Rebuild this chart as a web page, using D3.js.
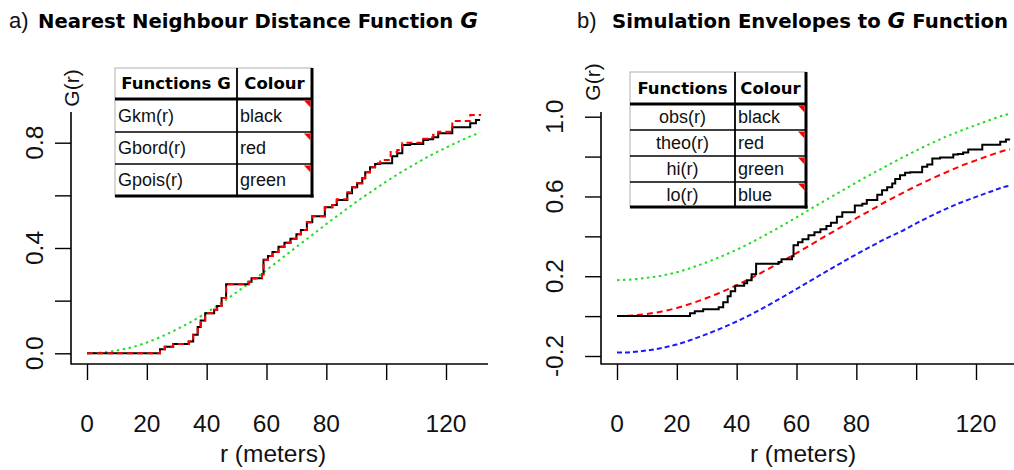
<!DOCTYPE html>
<html><head><meta charset="utf-8">
<script src="https://cdn.jsdelivr.net/npm/d3@7"></script>
<style>body{margin:0;background:#fff}svg{display:block}</style>
</head><body><svg id="c" width="1014" height="470"></svg>
<script>
// ---------- data ----------
const xTicks = [0, 20, 40, 60, 80, 100, 120];
const xTickLabels = ["0", "20", "40", "60", "80", "", "120"];
const yTicksA = [0, 0.2, 0.4, 0.6, 0.8];
const yTickLabelsA = ["0.0", "", "0.4", "", "0.8"];
const yTicksB = [-0.2, 0, 0.2, 0.4, 0.6, 0.8, 1.0];
const yTickLabelsB = ["-0.2", "", "0.2", "", "0.6", "", "1.0"];

// smooth curves (theoretical Poisson G and simulation envelopes)
const rSmooth = [0, 5, 10, 15, 20, 25, 30, 35, 40, 45, 50, 55, 60, 65, 70, 75, 80, 85, 90, 95, 100, 105, 110, 115, 120, 125, 130, 131.4];
const gPois = [0, 0.003, 0.011, 0.023, 0.041, 0.064, 0.091, 0.121, 0.155, 0.192, 0.232, 0.273, 0.316, 0.360, 0.404, 0.447, 0.491, 0.533, 0.575, 0.614, 0.652, 0.688, 0.721, 0.753, 0.781, 0.808, 0.832, 0.836];
const hiEnv = [0.180, 0.184, 0.192, 0.203, 0.220, 0.243, 0.270, 0.300, 0.333, 0.370, 0.410, 0.452, 0.495, 0.540, 0.584, 0.627, 0.670, 0.712, 0.752, 0.792, 0.830, 0.866, 0.900, 0.930, 0.958, 0.985, 1.010, 1.015];
const loEnv = [-0.183, -0.180, -0.172, -0.160, -0.142, -0.118, -0.090, -0.060, -0.027, 0.010, 0.050, 0.092, 0.136, 0.180, 0.224, 0.267, 0.310, 0.350, 0.390, 0.425, 0.465, 0.503, 0.538, 0.570, 0.598, 0.625, 0.650, 0.654];

// empirical step functions
const rKm = [0, 24.4, 26, 28.8, 34, 35.5, 37, 38, 39.5, 42.5, 43.5, 45, 46.5, 54, 55, 58.5, 59, 60.5, 62, 64, 66, 68, 70, 71.5, 73.5, 75.3, 79.5, 82, 83.5, 87, 88.6, 90.3, 92, 93, 94.6, 96.3, 98, 102, 103.7, 105.4, 108, 112.4, 114, 115.7, 117.4, 122.1, 128.1, 130, 131.4];
const gKm = [0, 0.015, 0.025, 0.035, 0.045, 0.07, 0.10, 0.125, 0.152, 0.165, 0.18, 0.21, 0.262, 0.272, 0.285, 0.30, 0.355, 0.37, 0.385, 0.405, 0.42, 0.435, 0.452, 0.468, 0.498, 0.521, 0.555, 0.563, 0.582, 0.608, 0.631, 0.646, 0.665, 0.688, 0.707, 0.719, 0.722, 0.749, 0.760, 0.791, 0.795, 0.81, 0.813, 0.821, 0.836, 0.859, 0.874, 0.886, 0.886];
const rBord = [0, 24.4, 26, 28.8, 34, 35.5, 37, 38, 39.5, 42.5, 43.5, 45, 46.5, 54, 55, 58.5, 59, 60.5, 62, 64, 66, 68, 70, 71.5, 73.5, 75.3, 79.5, 82, 83.5, 87, 88.6, 90.3, 92, 93, 94.6, 96.3, 98, 101.5, 103.7, 105.4, 112.4, 114, 115.7, 117.4, 122.1, 128.1, 131.4];
const gBord = [0, 0.015, 0.025, 0.035, 0.045, 0.07, 0.10, 0.125, 0.152, 0.165, 0.18, 0.21, 0.262, 0.272, 0.285, 0.30, 0.355, 0.37, 0.385, 0.405, 0.42, 0.435, 0.452, 0.468, 0.498, 0.521, 0.555, 0.563, 0.585, 0.612, 0.631, 0.646, 0.665, 0.688, 0.707, 0.722, 0.734, 0.765, 0.772, 0.80, 0.815, 0.82, 0.83, 0.842, 0.882, 0.905, 0.909];

const legendAHeader = ["Functions G", "Colour"];
const legendAFuncs = ["Gkm(r)", "Gbord(r)", "Gpois(r)"];
const legendAColours = ["black", "red", "green"];
const legendBHeader = ["Functions", "Colour"];
const legendBFuncs = ["obs(r)", "theo(r)", "hi(r)", "lo(r)"];
const legendBColours = ["black", "red", "green", "blue"];

// ---------- drawing ----------
const svg = d3.select("#c");
const FONT = "'Liberation Sans', Arial, sans-serif";
const BOLD = "'DejaVu Sans', sans-serif";
const COL = {black: "#000", red: "#ff0000", green: "#22dd22", blue: "#1a1aff"};

function panel(o) {
  const g = svg.append("g");
  const x = d3.scaleLinear().domain([0, 120]).range(o.xr);
  const y = d3.scaleLinear().domain(o.yd).range(o.yr);
  // axis lines (L shape)
  g.append("line").attr("x1", o.axX).attr("x2", o.axX).attr("y1", 112).attr("y2", 364.5)
    .attr("stroke", "#000").attr("stroke-width", 1.6);
  g.append("line").attr("x1", o.axX).attr("x2", o.xEnd).attr("y1", 364).attr("y2", 364)
    .attr("stroke", "#000").attr("stroke-width", 1.6);
  // x axis ticks
  const xa = g.append("g").attr("transform", "translate(0,364)")
    .call(d3.axisBottom(x).tickValues(xTicks).tickSize(16).tickSizeOuter(0).tickFormat(""));
  xa.select(".domain").remove();
  xa.selectAll("line").attr("stroke", "#000").attr("stroke-width", 1.4);
  g.selectAll(".xl").data(xTicks).enter().append("text")
    .attr("x", d => x(d)).attr("y", 432).attr("text-anchor", "middle")
    .attr("font-family", FONT).attr("font-size", 24.5).attr("fill", "#111")
    .text((d, i) => xTickLabels[i]);
  // y axis ticks
  const ya = g.append("g").attr("transform", `translate(${o.axX},0)`)
    .call(d3.axisLeft(y).tickValues(o.yt).tickSize(16).tickSizeOuter(0).tickFormat(""));
  ya.select(".domain").remove();
  ya.selectAll("line").attr("stroke", "#000").attr("stroke-width", 1.4);
  g.selectAll(".yl").data(o.yt).enter().append("text")
    .attr("transform", d => `translate(${o.ylX},${y(d)}) rotate(-90)`)
    .attr("text-anchor", "middle")
    .attr("font-family", FONT).attr("font-size", 24.5).attr("fill", "#111")
    .text((d, i) => o.ytl[i]);
  // axis titles
  g.append("text").attr("x", o.xTitleX).attr("y", 462).attr("text-anchor", "middle")
    .attr("font-family", FONT).attr("font-size", 24.5).attr("fill", "#111").text("r (meters)");
  g.append("text").attr("transform", `translate(${o.gX},${o.gY}) rotate(-90)`)
    .attr("text-anchor", "middle").attr("font-family", FONT).attr("font-size", 21)
    .attr("fill", "#111").text("G(r)");
  return {g, x, y};
}

function drawSmooth(p, vals, colour, dash) {
  const line = d3.line().x((d, i) => p.x(rSmooth[i])).y(d => p.y(d)).curve(d3.curveMonotoneX);
  p.g.append("path").datum(vals).attr("d", line).attr("fill", "none")
    .attr("stroke", colour).attr("stroke-width", 2).attr("stroke-dasharray", dash);
}
function drawStep(p, rs, vals, colour, dash) {
  const line = d3.line().x((d, i) => p.x(rs[i])).y(d => p.y(d)).curve(d3.curveStepAfter);
  p.g.append("path").datum(vals).attr("d", line).attr("fill", "none")
    .attr("stroke", colour).attr("stroke-width", 2).attr("stroke-dasharray", dash);
}

function table(o) {
  const g = svg.append("g");
  const x0 = o.x0, x1 = o.x1, xd = o.xd, ys = o.ys;
  const yTop = ys[0], yBot = ys[ys.length - 1];
  g.append("rect").attr("x", x0).attr("y", yTop).attr("width", x1 - x0).attr("height", yBot - yTop)
    .attr("fill", "#fff").attr("stroke", "#b0b0b0").attr("stroke-width", 1);
  // row separators
  ys.slice(1, -1).forEach((yy, i) => {
    g.append("line").attr("x1", x0).attr("x2", x1).attr("y1", yy).attr("y2", yy)
      .attr("stroke", "#000").attr("stroke-width", i === 0 ? 3 : 1.6);
  });
  // column divider
  g.append("line").attr("x1", xd).attr("x2", xd).attr("y1", yTop).attr("y2", yBot)
    .attr("stroke", "#000").attr("stroke-width", 1.8);
  // shadow right & bottom
  g.append("line").attr("x1", x1).attr("x2", x1).attr("y1", yTop).attr("y2", yBot + 1.5)
    .attr("stroke", "#000").attr("stroke-width", 3);
  g.append("line").attr("x1", x0).attr("x2", x1 + 1.5).attr("y1", yBot).attr("y2", yBot)
    .attr("stroke", "#000").attr("stroke-width", 3);
  // header
  const hy = (ys[0] + ys[1]) / 2;
  [[o.header[0], (x0 + xd) / 2], [o.header[1], (xd + x1) / 2]].forEach(([t, cx]) => {
    g.append("text").attr("x", cx).attr("y", hy).attr("dy", "0.36em").attr("text-anchor", "middle")
      .attr("font-family", BOLD).attr("font-weight", "bold").attr("font-size", o.hfs).text(t);
  });
  o.funcs.forEach((f, i) => {
    const cy = (ys[i + 1] + ys[i + 2]) / 2;
    g.append("text").attr("x", o.centerFunc ? (x0 + xd) / 2 : x0 + 3).attr("y", cy).attr("dy", "0.36em")
      .attr("text-anchor", o.centerFunc ? "middle" : "start")
      .attr("font-family", FONT).attr("font-size", o.bfs).attr("fill", "#111").text(f);
    g.append("text").attr("x", xd + 3).attr("y", cy).attr("dy", "0.36em")
      .attr("font-family", FONT).attr("font-size", o.bfs).attr("fill", "#111").text(o.colours[i]);
    const ty = ys[i + 1] + 1.5;
    g.append("path").attr("d", `M${x1 - 8},${ty} L${x1 - 1.5},${ty} L${x1 - 1.5},${ty + 7} Z`).attr("fill", "#ff0000");
  });
}

// Panel a
const pa = panel({xr: [87, 446], yd: [0, 0.8], yr: [353.3, 142.7], axX: 71, xEnd: 488,
  yt: yTicksA, ytl: yTickLabelsA, ylX: 43, xTitleX: 273, gX: 79, gY: 88});
drawSmooth(pa, gPois, COL.green, "2.5,3.5");
drawStep(pa, rKm, gKm, COL.black, null);
drawStep(pa, rBord, gBord, COL.red, "6,4");

// Panel b
const pb = panel({xr: [617, 976], yd: [-0.2, 1.0], yr: [356, 116.7], axX: 601, xEnd: 1014,
  yt: yTicksB, ytl: yTickLabelsB, ylX: 563, xTitleX: 803, gX: 600, gY: 82});
drawSmooth(pb, hiEnv, COL.green, "2.5,3.5");
drawSmooth(pb, loEnv, COL.blue, "5,3");
drawSmooth(pb, gPois, COL.red, "6,4");
drawStep(pb, rKm, gKm, COL.black, null);

table({x0: 115, x1: 312, xd: 237, ys: [68, 99, 132, 164, 196], header: legendAHeader,
  funcs: legendAFuncs, colours: legendAColours, hfs: 16.5, bfs: 18, centerFunc: false});
table({x0: 630, x1: 806, xd: 735, ys: [72, 104, 130, 156, 182, 207], header: legendBHeader,
  funcs: legendBFuncs, colours: legendBColours, hfs: 16.5, bfs: 18, centerFunc: true});

// Titles
svg.append("text").attr("x", 9).attr("y", 28).attr("font-family", FONT).attr("font-size", 22)
  .attr("fill", "#111").text("a)");
const ta = svg.append("text").attr("x", 38).attr("y", 28).attr("font-family", BOLD)
  .attr("font-weight", "bold").attr("font-size", 19).attr("textLength", 440)
  .attr("lengthAdjust", "spacingAndGlyphs");
ta.append("tspan").text("Nearest Neighbour Distance Function ");
ta.append("tspan").attr("font-style", "italic").attr("font-size", 21).text("G");

svg.append("text").attr("x", 577).attr("y", 28).attr("font-family", FONT).attr("font-size", 22)
  .attr("fill", "#111").text("b)");
const tb = svg.append("text").attr("x", 612).attr("y", 28).attr("font-family", BOLD)
  .attr("font-weight", "bold").attr("font-size", 19).attr("textLength", 396)
  .attr("lengthAdjust", "spacingAndGlyphs");
tb.append("tspan").text("Simulation Envelopes to ");
tb.append("tspan").attr("font-style", "italic").attr("font-size", 21).text("G");
tb.append("tspan").text(" Function");
</script></body></html>
